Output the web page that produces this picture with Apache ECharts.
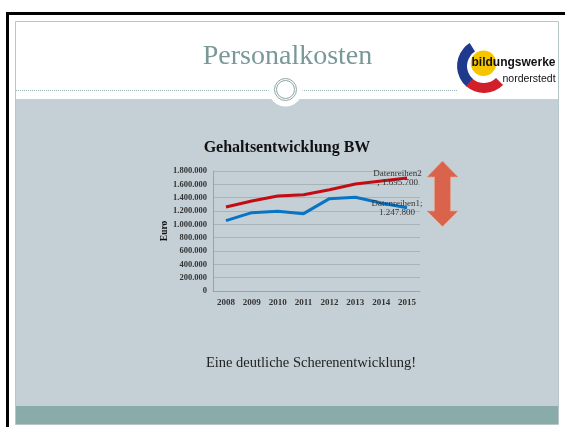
<!DOCTYPE html>
<html>
<head>
<meta charset="utf-8">
<script src="https://cdn.jsdelivr.net/npm/echarts@6/dist/echarts.min.js"></script>
<style>
html, body { margin: 0; padding: 0; background: #fff; }
#chart { width: 565px; height: 427px; }
</style>
</head>
<body>
<div id="chart"></div>
<script>
const years = ['2008', '2009', '2010', '2011', '2012', '2013', '2014', '2015']
const reihe1 = [1055000, 1175000, 1195000, 1160000, 1385000, 1405000, 1320000, 1247800]
const reihe2 = [1260000, 1350000, 1425000, 1445000, 1520000, 1605000, 1650000, 1695700]
const yMax = 1800000
const yStep = 200000

const SERIF = '"Liberation Serif", "DejaVu Serif", serif'
const SANS = '"Liberation Sans", Arial, sans-serif'

const fmt = (v) => String(v).replace(/\B(?=(\d{3})+(?!\d))/g, '.')

// only the last point carries a data label
function withEndLabel(values, offset, text) {
	const last = values.length - 1
	return values.map((v, i) =>
		i === last
			? {
					value: v,
					label: {
						show: true,
						position: 'inside',
						offset,
						align: 'center',
						verticalAlign: 'middle',
						formatter: (p) => text(p.value),
						fontFamily: SERIF,
						fontSize: 9,
						lineHeight: 8.8,
						color: '#333',
					},
			  }
			: v
	)
}

// slide decoration around the chart
const slide = [
	{ type: 'rect', z: -5, shape: { x: 6, y: 12, width: 559, height: 3 }, style: { fill: '#000' } },
	{ type: 'rect', z: -5, shape: { x: 6, y: 12, width: 3, height: 415 }, style: { fill: '#000' } },
	{ type: 'rect', z: -5, shape: { x: 15.5, y: 21.5, width: 543, height: 403 }, style: { fill: '#fff', stroke: '#b7c6c6', lineWidth: 1 } },
	{ type: 'rect', z: -4, shape: { x: 16, y: 99, width: 542, height: 307 }, style: { fill: '#c5d0d6' } },
	{ type: 'rect', z: -4, shape: { x: 16, y: 406, width: 542, height: 18 }, style: { fill: '#89acab' } },
	{ type: 'line', z: -4, shape: { x1: 16, y1: 90.5, x2: 271, y2: 90.5 }, style: { stroke: '#9db3b3', lineWidth: 1, lineDash: [1, 1] } },
	{ type: 'line', z: -4, shape: { x1: 300, y1: 90.5, x2: 457, y2: 90.5 }, style: { stroke: '#9db3b3', lineWidth: 1, lineDash: [1, 1] } },
	{ type: 'circle', z: -3, shape: { cx: 285.5, cy: 89.5, r: 17 }, style: { fill: '#fff' } },
	{ type: 'circle', z: -3, shape: { cx: 285.5, cy: 89.5, r: 11 }, style: { fill: 'none', stroke: '#8fa5a5', lineWidth: 1 } },
	{ type: 'circle', z: -3, shape: { cx: 285.5, cy: 89.5, r: 9 }, style: { fill: 'none', stroke: '#8fa5a5', lineWidth: 1 } },
	{ type: 'text', z: -3, style: { x: 287.5, y: 57, text: 'Personalkosten', font: '28px ' + SERIF, fill: '#7a9898', align: 'center', verticalAlign: 'middle' } },
	{ type: 'text', z: -3, style: { x: 311, y: 363, text: 'Eine deutliche Scherenentwicklung!', font: '14.5px ' + SERIF, fill: '#222', align: 'center', verticalAlign: 'middle' } },
	// logo
	{ type: 'sector', shape: { cx: 484, cy: 66, r0: 17, r: 27, startAngle: (130 * Math.PI) / 180, endAngle: (238 * Math.PI) / 180 }, style: { fill: '#1f3a8c' } },
	{ type: 'sector', shape: { cx: 484, cy: 66, r0: 17, r: 27, startAngle: (45 * Math.PI) / 180, endAngle: (132 * Math.PI) / 180 }, style: { fill: '#d2202b' } },
	{ type: 'circle', shape: { cx: 483.5, cy: 63.3, r: 12.7 }, style: { fill: '#f6c500' } },
	{ type: 'text', style: { x: 471.5, y: 63, text: 'bildungswerke', font: 'bold 12px ' + SANS, fill: '#111', verticalAlign: 'middle' } },
	{ type: 'text', style: { x: 502.5, y: 79, text: 'norderstedt', font: '500 10.5px ' + SANS, fill: '#111', verticalAlign: 'middle' } },
	// double arrow
	{
		type: 'polygon',
		shape: {
			points: [[442.5, 161], [458, 177], [450.5, 177], [450.5, 211], [458, 211], [442.5, 226.5], [427, 211], [434.5, 211], [434.5, 177], [427, 177]],
		},
		style: { fill: '#d9644b', stroke: '#e8a08c', lineWidth: 1, lineDash: [2, 1] },
	},
]

const chart = echarts.init(document.getElementById('chart'), null, { renderer: 'canvas' })

chart.setOption({
	backgroundColor: '#fff',
	animation: false,
	title: {
		text: 'Gehaltsentwicklung BW',
		left: 287,
		top: 140,
		textAlign: 'center',
		padding: 0,
		textStyle: { fontFamily: SERIF, fontSize: 16, fontWeight: 'bold', color: '#111' },
	},
	grid: { left: 213, right: 145, top: 171, bottom: 136, containLabel: false },
	xAxis: {
		type: 'category',
		data: years,
		boundaryGap: true,
		axisLine: { lineStyle: { color: '#9aa4a8', width: 1 } },
		axisTick: { show: false },
		axisLabel: { fontFamily: SERIF, fontSize: 9, fontWeight: 'bold', color: '#333', margin: 7 },
	},
	yAxis: {
		type: 'value',
		min: 0,
		max: yMax,
		interval: yStep,
		name: 'Euro',
		nameLocation: 'middle',
		nameRotate: 90,
		nameGap: 43,
		nameTextStyle: { fontFamily: SERIF, fontSize: 9.5, fontWeight: 'bold', color: '#111' },
		axisLine: { show: true, lineStyle: { color: '#9aa4a8', width: 1 } },
		axisTick: { show: false },
		splitLine: { lineStyle: { color: '#a9b4b9', width: 1 } },
		axisLabel: { fontFamily: SERIF, fontSize: 8.5, fontWeight: 'bold', color: '#333', margin: 6, formatter: fmt },
	},
	series: [
		{
			name: 'Datenreihen1',
			type: 'line',
			symbol: 'circle',
			showSymbol: true,
			symbolSize: 0,
			lineStyle: { color: '#0a74c4', width: 3 },
			itemStyle: { color: '#0a74c4' },
			data: withEndLabel(reihe1, [-10, 0.5], (v) => 'Datenreihen1;\n' + fmt(v)),
		},
		{
			name: 'Datenreihen2',
			type: 'line',
			symbol: 'circle',
			showSymbol: true,
			symbolSize: 0,
			lineStyle: { color: '#c30d14', width: 3 },
			itemStyle: { color: '#c30d14' },
			data: withEndLabel(reihe2, [-9.5, 0], (v) => 'Datenreihen2\n; ' + fmt(v)),
		},
	],
	graphic: slide,
})
</script>
</body>
</html>
